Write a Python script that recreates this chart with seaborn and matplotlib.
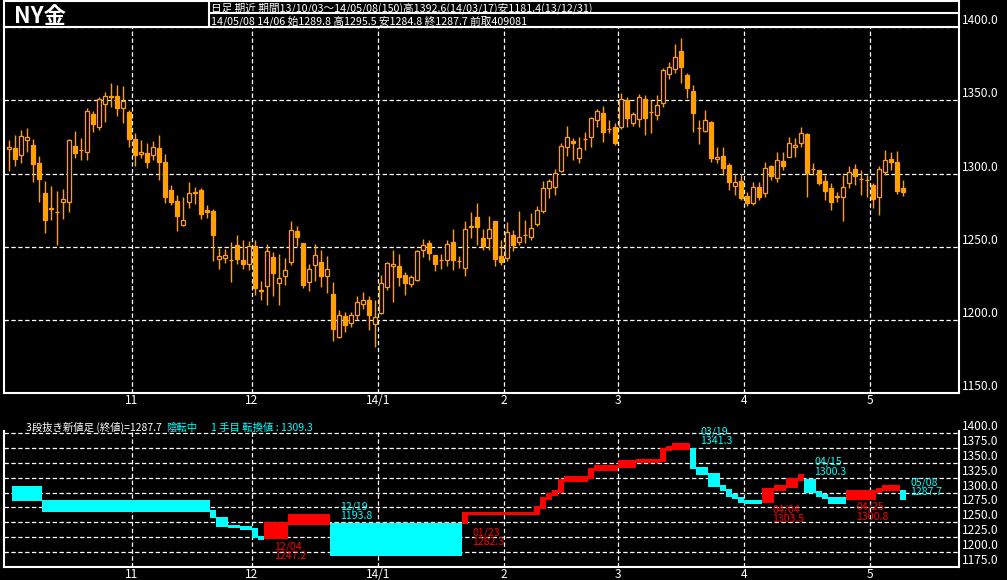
import numpy as np
import pandas as pd
import matplotlib
matplotlib.use("Agg")
import matplotlib.pyplot as plt
from matplotlib.lines import Line2D
import seaborn as sns

# === Daily candles, NY gold, 13/10/03 .. 14/05/08 (150 sessions) ===
opens = [1316.6, 1317.3, 1312.5, 1322.7, 1319.5, 1307.3, 1286.8, 1276.5, 1273.5, 1280.9,
         1280.9, 1318.9, 1316.3, 1315.0, 1340.7, 1332.0, 1347.3, 1352.7, 1352.7, 1344.5,
         1341.8, 1323.4, 1313.2, 1313.9, 1312.3, 1317.3, 1307.7, 1288.6, 1281.4, 1265.2,
         1280.9, 1287.0, 1288.6, 1274.8, 1274.3, 1241.6, 1242.3, 1241.3, 1251.1, 1241.1,
         1238.2, 1250.5, 1220.3, 1223.0, 1243.0, 1225.2, 1229.8, 1239.5, 1260.9, 1252.7,
         1225.7, 1237.3, 1239.8, 1229.8, 1218.0, 1188.4, 1203.0, 1198.0, 1203.4, 1210.9,
         1213.9, 1197.3, 1204.8, 1222.3, 1236.6, 1237.1, 1230.9, 1224.6, 1227.1, 1247.5,
         1252.5, 1244.6, 1241.3, 1241.1, 1253.0, 1240.2, 1235.5, 1263.5, 1270.2, 1255.9,
         1255.9, 1267.7, 1243.9, 1242.3, 1258.2, 1253.6, 1257.9, 1256.6, 1265.5, 1274.1,
         1290.0, 1290.7, 1302.0, 1318.4, 1322.3, 1310.9, 1323.5, 1325.2, 1336.6, 1341.1,
         1330.5, 1331.6, 1332.0, 1350.2, 1334.8, 1337.0, 1350.7, 1341.9, 1339.8, 1348.4,
         1367.7, 1371.1, 1383.6, 1367.3, 1356.4, 1331.1, 1329.3, 1335.2, 1309.8, 1312.0,
         1305.9, 1291.8, 1295.0, 1284.8, 1279.8, 1290.7, 1286.6, 1304.8, 1296.8, 1308.6,
         1311.6, 1317.9, 1321.1, 1327.0, 1303.3, 1302.5, 1295.0, 1290.0, 1284.2, 1283.8,
         1293.8, 1302.9, 1296.0, 1295.8, 1292.2, 1284.3, 1300.7, 1310.0, 1307.9, 1289.8]
highs = [1323.0, 1326.4, 1329.8, 1330.9, 1323.6, 1312.0, 1295.2, 1291.6, 1288.2, 1289.3,
         1323.9, 1329.1, 1324.3, 1344.8, 1343.0, 1352.5, 1355.9, 1361.6, 1360.5, 1359.5,
         1343.4, 1327.5, 1323.0, 1320.7, 1322.5, 1326.4, 1313.2, 1292.3, 1285.5, 1284.3,
         1294.3, 1290.7, 1290.0, 1278.4, 1275.9, 1249.1, 1248.4, 1253.6, 1258.2, 1254.8,
         1254.1, 1254.8, 1226.4, 1252.0, 1246.1, 1245.0, 1242.3, 1267.5, 1263.9, 1252.7,
         1238.4, 1252.0, 1248.0, 1243.9, 1226.1, 1207.1, 1205.7, 1205.3, 1216.2, 1219.3,
         1216.2, 1213.9, 1231.0, 1239.3, 1248.0, 1245.2, 1232.5, 1230.9, 1248.0, 1255.2,
         1254.8, 1244.6, 1245.2, 1254.8, 1262.3, 1243.9, 1267.3, 1273.4, 1280.2, 1262.0,
         1271.1, 1267.7, 1254.8, 1266.6, 1261.2, 1274.6, 1268.0, 1273.0, 1278.0, 1294.6,
         1296.1, 1303.0, 1321.1, 1332.5, 1324.1, 1325.2, 1328.6, 1338.4, 1344.1, 1346.1,
         1336.6, 1334.3, 1354.8, 1352.5, 1342.3, 1354.3, 1353.6, 1350.2, 1353.6, 1371.8,
         1375.9, 1388.4, 1392.6, 1368.4, 1360.5, 1336.6, 1343.4, 1336.1, 1318.0, 1318.0,
         1307.5, 1299.8, 1299.5, 1287.7, 1293.9, 1294.5, 1308.2, 1305.9, 1315.0, 1315.0,
         1324.7, 1324.1, 1332.0, 1327.9, 1307.5, 1302.5, 1299.1, 1293.4, 1287.7, 1299.1,
         1305.4, 1306.3, 1302.5, 1299.1, 1293.8, 1305.2, 1316.1, 1315.0, 1315.6, 1295.5]
lows = [1302.0, 1304.8, 1307.5, 1315.0, 1294.5, 1280.9, 1259.3, 1268.0, 1250.9, 1268.9,
        1273.4, 1310.7, 1309.5, 1309.3, 1328.6, 1329.8, 1335.5, 1345.7, 1339.5, 1334.3,
        1318.4, 1305.2, 1310.5, 1303.6, 1309.3, 1295.7, 1280.2, 1278.2, 1260.5, 1264.5,
        1276.8, 1279.3, 1268.9, 1269.5, 1240.0, 1235.0, 1238.9, 1225.7, 1238.4, 1235.0,
        1233.9, 1217.3, 1213.9, 1210.5, 1216.1, 1210.0, 1224.1, 1237.3, 1250.2, 1221.8,
        1219.6, 1226.8, 1222.5, 1218.4, 1185.5, 1187.5, 1191.6, 1195.2, 1200.2, 1207.5,
        1193.0, 1181.4, 1204.3, 1220.7, 1212.0, 1223.4, 1217.3, 1222.5, 1226.4, 1243.0,
        1240.7, 1233.2, 1234.8, 1237.1, 1234.3, 1235.5, 1230.2, 1255.9, 1251.4, 1248.0,
        1248.0, 1237.1, 1237.7, 1240.0, 1246.8, 1251.4, 1252.5, 1254.8, 1263.9, 1273.0,
        1283.6, 1285.5, 1300.7, 1312.0, 1309.3, 1307.0, 1316.1, 1318.4, 1332.0, 1321.8,
        1327.5, 1319.5, 1330.2, 1331.6, 1332.5, 1331.6, 1326.4, 1327.5, 1336.6, 1345.7,
        1364.3, 1368.4, 1361.6, 1351.4, 1328.0, 1320.2, 1328.0, 1308.2, 1307.5, 1299.0,
        1288.9, 1285.5, 1282.0, 1277.5, 1278.6, 1281.6, 1284.3, 1295.7, 1294.5, 1302.5,
        1311.1, 1311.1, 1318.4, 1284.3, 1299.0, 1292.2, 1281.6, 1275.2, 1280.9, 1267.9,
        1290.0, 1292.2, 1285.4, 1284.3, 1276.3, 1271.8, 1299.1, 1302.5, 1286.1, 1284.8]
closes = [1318.0, 1309.8, 1325.5, 1324.8, 1306.8, 1296.6, 1268.0, 1276.1, 1273.4, 1282.3,
          1322.7, 1314.3, 1316.1, 1342.5, 1334.1, 1350.7, 1352.7, 1352.5, 1345.0, 1349.3,
          1323.4, 1312.7, 1314.8, 1308.2, 1317.9, 1308.2, 1284.3, 1280.9, 1270.7, 1268.2,
          1286.6, 1287.1, 1272.3, 1273.4, 1257.7, 1243.4, 1244.3, 1241.1, 1241.6, 1238.2,
          1250.5, 1221.8, 1220.1, 1247.0, 1232.0, 1228.6, 1234.1, 1261.4, 1257.0, 1224.1,
          1234.8, 1244.3, 1229.8, 1234.8, 1193.9, 1203.4, 1196.4, 1203.7, 1212.5, 1213.9,
          1203.2, 1202.3, 1225.2, 1238.9, 1238.2, 1229.1, 1225.2, 1229.3, 1247.1, 1251.2,
          1245.7, 1238.2, 1241.1, 1252.0, 1241.1, 1240.0, 1262.0, 1263.9, 1263.4, 1250.2,
          1262.0, 1241.8, 1239.3, 1260.0, 1250.9, 1256.6, 1257.7, 1262.7, 1275.2, 1290.0,
          1295.0, 1300.2, 1318.8, 1324.8, 1320.7, 1317.3, 1323.4, 1337.7, 1342.7, 1328.0,
          1330.7, 1321.1, 1350.7, 1337.7, 1340.7, 1352.0, 1338.2, 1341.8, 1346.6, 1370.7,
          1372.5, 1379.3, 1373.0, 1358.6, 1341.1, 1330.9, 1336.6, 1310.9, 1311.6, 1303.6,
          1294.5, 1294.5, 1283.6, 1279.8, 1290.7, 1284.3, 1303.6, 1298.0, 1309.3, 1305.4,
          1320.7, 1319.5, 1327.5, 1300.2, 1303.1, 1293.8, 1288.4, 1280.9, 1284.3, 1290.7,
          1300.9, 1298.4, 1296.1, 1295.6, 1282.7, 1302.9, 1309.3, 1308.2, 1288.4, 1287.7]

# first session of each month (index) and the month labels
month_first = [21, 41, 62, 83, 102, 123, 144]
month_labels = ["11", "12", "14/1", "2", "3", "4", "5"]

# === Three-line-break blocks (first / last session, low, high, direction) ===
blk_first = [1, 6, 34, 35, 37, 39, 41, 42, 43, 47, 54, 76, 77, 88, 89, 90, 91, 92, 93, 97,
             98, 102, 105, 109, 110, 111, 114, 115, 117, 119, 120, 121, 122, 123, 126, 128,
             130, 132, 133, 135, 136, 137, 140, 145, 146, 149]
blk_last = [5, 33, 34, 36, 38, 40, 41, 42, 46, 53, 75, 76, 87, 88, 89, 90, 91, 92, 96, 97,
            101, 104, 108, 109, 110, 113, 114, 116, 118, 119, 120, 121, 122, 125, 127, 129,
            131, 132, 134, 135, 136, 139, 144, 145, 148, 149]
blk_low = [1285.0, 1267.0, 1257.0, 1243.0, 1240.0, 1236.7, 1223.3, 1220.0, 1221.7, 1246.2,
           1193.3, 1246.7, 1262.0, 1262.8, 1272.8, 1288.0, 1294.5, 1300.0, 1318.3, 1322.3,
           1336.7, 1341.0, 1350.0, 1351.2, 1370.0, 1371.2, 1340.0, 1329.5, 1310.0, 1303.3,
           1293.3, 1289.5, 1283.3, 1280.6, 1282.2, 1302.8, 1307.8, 1320.0, 1300.0, 1293.3,
           1289.0, 1280.6, 1287.8, 1299.0, 1302.8, 1286.7]
blk_high = [1311.0, 1288.0, 1270.0, 1259.5, 1245.6, 1243.3, 1240.0, 1226.7, 1251.2, 1264.5,
            1249.5, 1266.7, 1268.0, 1278.0, 1292.3, 1299.0, 1304.5, 1322.3, 1327.8, 1341.0,
            1346.0, 1354.5, 1355.6, 1375.0, 1377.8, 1383.3, 1375.0, 1343.3, 1333.3, 1312.8,
            1306.7, 1297.3, 1293.3, 1286.7, 1307.8, 1312.8, 1325.0, 1331.1, 1322.8, 1303.3,
            1297.3, 1291.7, 1304.5, 1307.8, 1312.8, 1304.5]
blk_dir = ["dn"] * 8 + ["up"] * 2 + ["dn"] + ["up"] * 15 + ["dn"] * 8 + ["up"] * 4 \
    + ["dn"] * 4 + ["up"] * 3 + ["dn"]

# turning point tags: block start, date, value, text height (price units)
tag_first = [43, 54, 76, 114, 126, 133, 140, 149]
tag_date = ["12/04", "12/19", "01/23", "03/19", "04/04", "04/15", "04/25", "05/08"]
tag_value = ["1247.2", "1193.8", "1282.3", "1341.3", "1303.5", "1300.3", "1300.8", "1287.7"]
tag_dir = ["up", "dn", "up", "dn", "up", "dn", "up", "dn"]
tag_y = [1209.5, 1276.7, 1233.3, 1401.7, 1271.2, 1350.7, 1275.7, 1316.7]

# === Style ===
ORANGE = "#ffa000"
CYAN = "#00ffff"
RED = "#ff0000"
sns.set_theme(style="dark", rc={
    "figure.facecolor": "black", "axes.facecolor": "black",
    "axes.edgecolor": "white", "text.color": "white",
    "xtick.color": "white", "ytick.color": "white",
})
plt.rcParams["font.family"] = ["Noto Sans CJK JP", "DejaVu Sans"]

W, H = 1007, 580


def px_rect(l, t, r, b):
    return [l / W, 1 - b / H, (r - l) / W, (b - t) / H]


def fig_line(x0, y0, x1, y1):
    fig.add_artist(Line2D([x0 / W, x1 / W], [1 - y0 / H, 1 - y1 / H],
                          transform=fig.transFigure, color="white", lw=1.5))


df = pd.DataFrame({"open": opens, "high": highs, "low": lows, "close": closes})
df["idx"] = np.arange(len(df))
df["up"] = df["close"] >= df["open"]
df["bot"] = df[["open", "close"]].min(axis=1)
df["body"] = (df["close"] - df["open"]).abs().clip(lower=0.15)

fig = plt.figure(figsize=(W / 100, H / 100), dpi=100)
ax = fig.add_axes(px_rect(3.5, 27, 958.5, 393.3))
ax2 = fig.add_axes(px_rect(3.5, 431.5, 958.5, 567.3))

xlim = ((3.5 - 9) / 6, (958.5 - 9) / 6)
xt = [m - 0.5 for m in month_first]
grid_kw = dict(color="white", lw=0.9, ls=(0, (3.5, 2)))

# --- main candle panel ---
ax.vlines(df["idx"], df["low"], df["high"], color=ORANGE, lw=1.0, zorder=2)
up = df[df["up"]]
dn = df[~df["up"]]
ax.bar(up["idx"], up["body"], bottom=up["bot"], width=0.72, facecolor="black",
       edgecolor=ORANGE, lw=0.9, zorder=3)
ax.bar(dn["idx"], dn["body"], bottom=dn["bot"], width=0.72, facecolor=ORANGE,
       edgecolor=ORANGE, lw=0.9, zorder=3)
ax.set_xlim(*xlim)
ax.set_ylim(1150, 1400)
ax.set_yticks(np.arange(1150, 1401, 50))

# --- lower three-line-break panel ---
for s, e, lo, hi, d in zip(blk_first, blk_last, blk_low, blk_high, blk_dir):
    ax2.bar(s - 0.5, hi - lo, bottom=lo, width=e - s + 1, align="edge",
            color=RED if d == "up" else CYAN, lw=0, zorder=3)
for s, dt, val, d, yy in zip(tag_first, tag_date, tag_value, tag_dir, tag_y):
    c = RED if d == "up" else CYAN
    ax2.text(s + 1.17, yy, dt, color=c, fontsize=7.6, va="center", ha="left")
    ax2.text(s + 1.17, yy - 15.8, val, color=c, fontsize=7.6, va="center", ha="left")
ax2.set_xlim(*xlim)
ax2.set_ylim(1175, 1402)
ax2.set_yticks(np.arange(1175, 1401, 25))
ax2.spines["top"].set_visible(False)

for a in (ax, ax2):
    a.set_axisbelow(True)
    a.grid(True, **grid_kw)
    a.set_xticks(xt)
    a.set_xticklabels(month_labels)
    a.yaxis.tick_right()
    a.set_yticklabels([f"{v:.1f}" for v in a.get_yticks()])
    for lbl in a.get_yticklabels():
        lbl.set_verticalalignment("bottom")
    a.tick_params(axis="both", length=0, labelsize=8.6, colors="white")
    a.tick_params(axis="x", pad=0.5)
    a.tick_params(axis="y", pad=2.5)
    for sp in a.spines.values():
        sp.set_color("white")
        sp.set_linewidth(1.5)

# --- header ---
fig_line(3.5, 1, 958.5, 1)
fig_line(209, 13, 958.5, 13)
fig_line(209, 1, 209, 27)
fig_line(3.5, 1, 3.5, 27)
fig_line(958.5, 0, 958.5, 27)
fig.text(14 / W, 1 - 23 / H, "NY金", fontsize=16, color="white", va="baseline",
         fontweight="bold")
fig.text(211 / W, 1 - 11.5 / H,
         "日足 期近 期間13/10/03～14/05/08(150)高1392.6(14/03/17)安1181.4(13/12/31)",
         fontsize=7.7, color="white", va="baseline")
fig.text(211 / W, 1 - 24.5 / H,
         "14/05/08 14/06 始1289.8 高1295.5 安1284.8 終1287.7 前取409081",
         fontsize=7.7, color="white", va="baseline")

fig.text(26 / W, 1 - 430.5 / H, "3段抜き新値足 (終値)=1287.7", fontsize=7.5,
         color="white", va="baseline")
fig.text(166 / W, 1 - 430.5 / H, "陰転中", fontsize=7.5, color=CYAN, va="baseline")
fig.text(211 / W, 1 - 430.5 / H, "1 手目 転換値 : 1309.3", fontsize=7.5,
         color=CYAN, va="baseline")

fig.savefig("out.png", dpi=100, facecolor="black")
